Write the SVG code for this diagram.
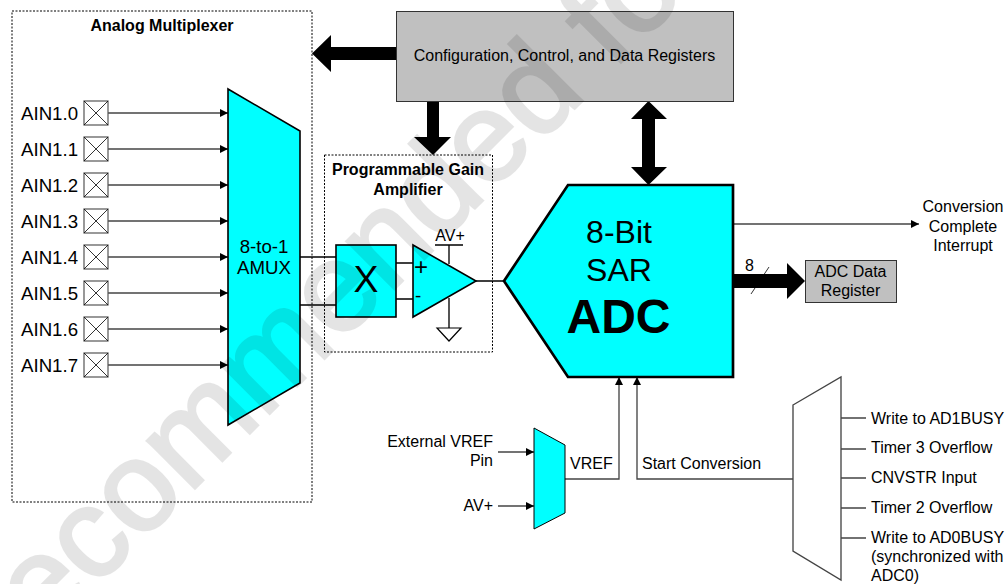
<svg xmlns="http://www.w3.org/2000/svg" width="1008" height="584" viewBox="0 0 1008 584">
<style>
text{font-family:"Liberation Sans",Arial,sans-serif;font-size:16px;fill:#000}
.b{font-weight:700}
.m{text-anchor:middle}
.e{text-anchor:end}
.l{font-size:18.67px}
.box{fill:none;stroke:#000;stroke-width:1;stroke-dasharray:2 1.5}
.cy{fill:#0ff;stroke:#000;stroke-width:1.6;stroke-linejoin:miter}
.gr{fill:#c0c0c0;stroke:#333;stroke-width:1}
.w{fill:none;stroke:#000;stroke-width:1.33}
.t{fill:none;stroke:#444;stroke-width:1.33}
.bus{fill:#000;stroke:none}
.pad{fill:#fff;stroke:#555;stroke-width:1.2}
.padx{fill:none;stroke:#000;stroke-width:.8}
</style>
<defs>
<marker id="a" markerUnits="userSpaceOnUse" markerWidth="9" markerHeight="9" refX="8" refY="4" orient="auto"><path d="M0 0L8 4L0 8Z" fill="#000"/></marker>
<g id="padshape"><rect class="pad" x="-12" y="-12" width="24" height="24"/><path class="padx" d="M-12-12L12 12M-12 12L12-12"/></g>
</defs>
<g id="analog-multiplexer"><rect class="box" x="12" y="11" width="300" height="491"/><text class="b m" x="162" y="31">Analog Multiplexer</text></g>
<g id="pga"><rect class="box" x="324.500" y="155" width="168" height="197"/><text class="b m" x="408" y="175">Programmable Gain</text><text class="b m" x="408" y="195">Amplifier</text></g>
<g id="connectors">
<path class="t" marker-end="url(#a)" d="M108 113H228"/>
<path class="t" marker-end="url(#a)" d="M108 149H228"/>
<path class="t" marker-end="url(#a)" d="M108 185H228"/>
<path class="t" marker-end="url(#a)" d="M108 221H228"/>
<path class="t" marker-end="url(#a)" d="M108 257H228"/>
<path class="t" marker-end="url(#a)" d="M108 293H228"/>
<path class="t" marker-end="url(#a)" d="M108 329H228"/>
<path class="t" marker-end="url(#a)" d="M108 365H228"/>
<path class="w" d="M300 257H336M300 305H336M396 263H413M396 299H413M476 281H504"/>
<path class="w" d="M435 245H463M449 245V264M449 298V328"/>
<path class="t" marker-end="url(#a)" d="M733 224H919"/>
<path class="t" marker-end="url(#a)" d="M498 452H534"/>
<path class="t" marker-end="url(#a)" d="M498 506H534"/>
<path class="t" marker-end="url(#a)" d="M565 479H619V377"/>
<path class="t" marker-end="url(#a)" d="M793 479H637V377"/>
<path class="t" d="M841 418H866M841 449H866M841 478H866M841 508H866M841 538H866"/>
<path class="bus" d="M396 47H331V35L312 53.500L331 72V60H396Z"/>
<path class="bus" d="M427 101V137H414L433 155L451 137H439V101Z"/>
<path class="bus" d="M648.500 101L631 119H642V167H631L648.500 185L667 167H655V119H667Z"/>
<path class="bus" d="M733 274H787V263L805 281L787 299V288H733Z"/>
<path fill="none" stroke="#000" stroke-width=".8" d="M751 294L769 267"/>
</g>
<g id="registers"><rect class="gr" x="396.500" y="11.500" width="337" height="90"/><text class="m" x="564.500" y="61">Configuration, Control, and Data Registers</text></g>
<g id="pad-0"><use href="#padshape" x="96" y="113"/><text class="l" x="21" y="119.500">AIN1.0</text></g>
<g id="pad-1"><use href="#padshape" x="96" y="149"/><text class="l" x="21" y="155.500">AIN1.1</text></g>
<g id="pad-2"><use href="#padshape" x="96" y="185"/><text class="l" x="21" y="191.500">AIN1.2</text></g>
<g id="pad-3"><use href="#padshape" x="96" y="221"/><text class="l" x="21" y="227.500">AIN1.3</text></g>
<g id="pad-4"><use href="#padshape" x="96" y="257"/><text class="l" x="21" y="263.500">AIN1.4</text></g>
<g id="pad-5"><use href="#padshape" x="96" y="293"/><text class="l" x="21" y="299.500">AIN1.5</text></g>
<g id="pad-6"><use href="#padshape" x="96" y="329"/><text class="l" x="21" y="335.500">AIN1.6</text></g>
<g id="pad-7"><use href="#padshape" x="96" y="365"/><text class="l" x="21" y="371.500">AIN1.7</text></g>
<g id="amux"><path class="cy" d="M228 89L300 131V383L228 425Z"/><text class="l m" x="264" y="253">8-to-1</text><text class="l m" x="264" y="274">AMUX</text></g>
<g id="gain-x"><rect class="cy" x="336" y="245" width="60" height="72"/><text class="m" style="font-size:37.330px" x="366" y="292">X</text></g>
<g id="opamp"><path class="cy" d="M413 245L476 281L413 317Z"/><text class="m" style="font-size:24px" x="421" y="275">+</text><text class="m" style="font-size:18.670px" x="418" y="302">-</text><text class="m" x="450" y="241">AV+</text></g>
<g id="ground"><path fill="none" stroke="#000" stroke-width="1.2" d="M437 328H461L449 341Z"/></g>
<g id="adc"><path class="cy" style="stroke-width:2.670" d="M504 281L568 185H733V377H568Z"/><text class="m" style="font-size:32px" x="619" y="243">8-Bit</text><text class="m" style="font-size:32px" x="619" y="281">SAR</text><text class="b m" style="font-size:48px" x="618.500" y="333">ADC</text></g>
<g id="interrupt-label"><text class="m" x="963" y="212">Conversion</text><text class="m" x="963" y="232">Complete</text><text class="m" x="963" y="251">Interrupt</text></g>
<g id="data-register"><rect class="gr" x="805.500" y="260.500" width="91" height="42"/><text class="m" x="850.500" y="277">ADC Data</text><text class="m" x="850.500" y="296">Register</text></g>
<text x="745" y="271">8</text>
<g id="vref-mux"><path class="cy" style="stroke-width:1" d="M534 428L565 445V513L534 529Z"/></g>
<text class="e" x="493" y="447">External VREF</text><text class="e" x="493" y="466">Pin</text><text class="e" x="493" y="511">AV+</text>
<text x="570" y="469">VREF</text><text x="642" y="469">Start Conversion</text>
<g id="start-mux"><path fill="#fff" stroke="#444" stroke-width="1.33" d="M793 405L841 377V580L793 551Z"/></g>
<text x="871" y="424">Write to AD1BUSY</text><text x="871" y="453">Timer 3 Overflow</text><text x="871" y="483">CNVSTR Input</text><text x="871" y="513">Timer 2 Overflow</text><text x="871" y="543">Write to AD0BUSY</text><text x="871" y="562">(synchronized with</text><text x="871" y="581">ADC0)</text>
<text id="watermark" style="font-size:127px;fill:#000;stroke:#000;stroke-width:3;opacity:.1" transform="translate(14 669) rotate(-45)">recommended for</text>
</svg>
